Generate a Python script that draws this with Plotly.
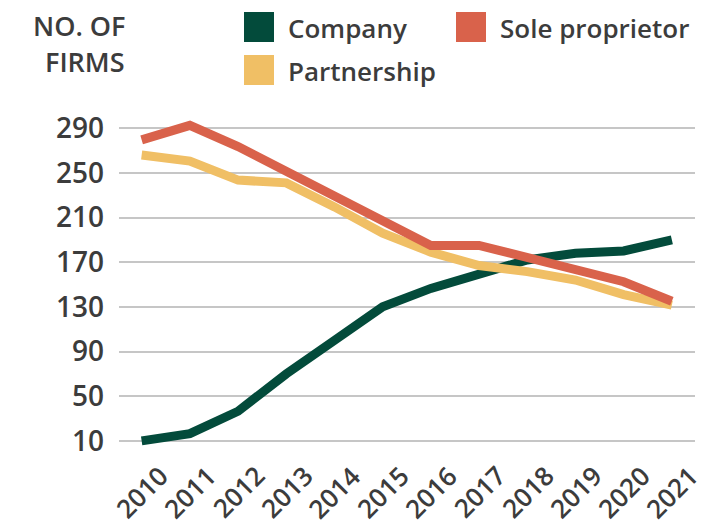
import plotly.graph_objects as go

years = [2010, 2011, 2012, 2013, 2014, 2015, 2016, 2017, 2018, 2019, 2020, 2021]
company = [10, 16.5, 36.5, 70, 100, 130, 146.5, 160, 172, 178, 180, 190]
partnership = [266, 260.5, 243.5, 241, 219.5, 196, 179, 167, 161.5, 154, 141, 131.5]
sole_proprietor = [279.5, 292.5, 273.5, 251, 228.5, 206, 185, 185, 173.5, 162, 152.5, 135]

y_ticks = [10, 50, 90, 130, 170, 210, 250, 290]
y_title_lines = ["NO. OF", "FIRMS"]

series_names = ["Company", "Partnership", "Sole proprietor"]
series_colors = ["#034b3b", "#f0bf65", "#d9624b"]
series_values = [company, partnership, sole_proprietor]

FONT = "Open Sans"
WEIGHT = 600
TXT = "#3c3c3c"
W, H = 724, 526
L, R, T, B = 119, 29, 117, 74
PW, PH = W - L - R, H - T - B


def px(x):
    return (x - L) / PW


def py(y):
    return (H - B - y) / PH


def font(size=26):
    return dict(family=FONT, size=size, color=TXT, weight=WEIGHT)


fig = go.Figure()
for name, color, vals in zip(series_names, series_colors, series_values):
    fig.add_trace(go.Scatter(
        x=years, y=vals, mode="lines", name=name,
        line=dict(color=color, width=9), showlegend=False,
        hoverinfo="skip",
    ))

annotations = []
shapes = []

# y-axis title
for line, yc in zip(y_title_lines, [25, 62]):
    annotations.append(dict(
        text=line, xref="paper", yref="paper", x=px(127), y=py(yc),
        xanchor="right", yanchor="middle", showarrow=False, font=font(27),
    ))

# legend (squares + labels)
legend_pos = {
    "Company": (244, 27),
    "Sole proprietor": (456, 27),
    "Partnership": (244, 70),
}
for name, color in zip(series_names, series_colors):
    x0, yc = legend_pos[name]
    shapes.append(dict(
        type="rect", xref="paper", yref="paper",
        x0=px(x0), x1=px(x0 + 30), y0=py(yc - 15), y1=py(yc + 15),
        fillcolor=color, line=dict(width=0), layer="above",
    ))
    annotations.append(dict(
        text=name, xref="paper", yref="paper", x=px(x0 + 42), y=py(yc + 1),
        xanchor="left", yanchor="middle", showarrow=False, font=font(26),
    ))

# rotated x tick labels, centred under each year
for yr in years:
    annotations.append(dict(
        text=str(yr), x=yr, xref="x", y=0, yref="paper",
        xanchor="center", yanchor="middle", textangle=-45,
        yshift=-40, showarrow=False, font=font(26),
    ))

fig.update_layout(
    width=W, height=H,
    margin=dict(l=L, r=R, t=T, b=B, pad=0),
    paper_bgcolor="white", plot_bgcolor="white",
    showlegend=False,
    xaxis=dict(
        range=[2009.53, 2021.48], showticklabels=False, showgrid=False,
        zeroline=False, showline=False, ticks="",
    ),
    yaxis=dict(
        range=[0, 300], tickvals=y_ticks, ticktext=[str(v) for v in y_ticks],
        showgrid=True, gridcolor="#c6c6c6", gridwidth=2,
        zeroline=False, showline=False, ticks="",
        ticklabelstandoff=14, tickfont=font(28),
    ),
    annotations=annotations,
    shapes=shapes,
)

fig.write_html(
    "out.html",
    config={"displayModeBar": False, "staticPlot": True},
    post_script="document.body.style.margin='0';document.body.style.overflow='hidden';",
)
